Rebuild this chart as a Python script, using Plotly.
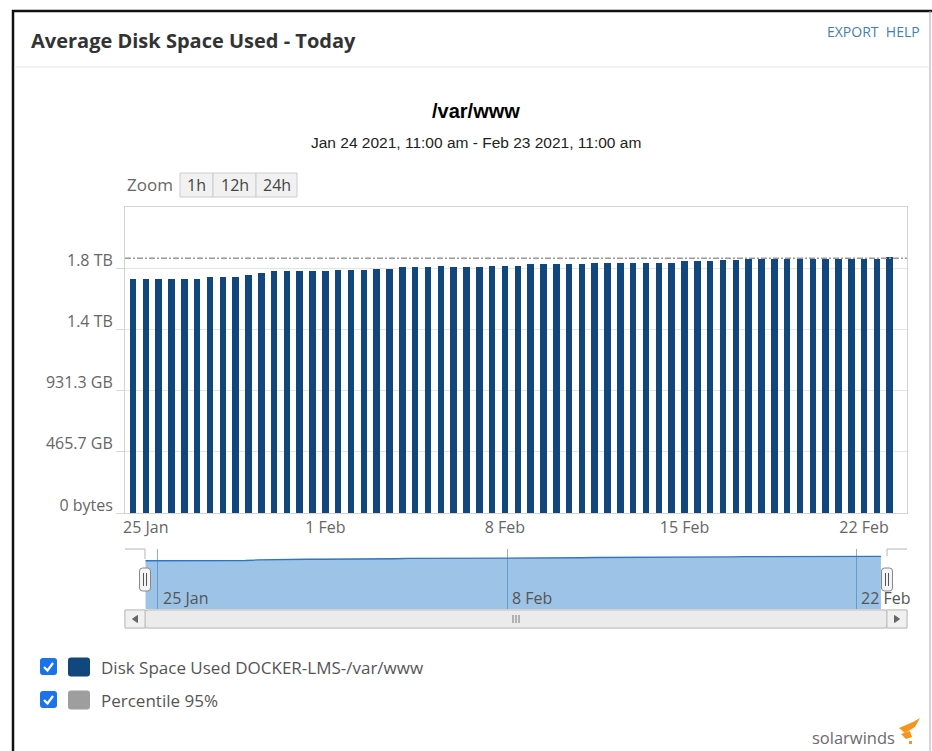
import pandas as pd
import plotly.graph_objects as go

# ---------------- data ----------------
timestamps = pd.date_range("2021-01-24 12:00", periods=60, freq="12h")
disk_used_tb = [
    1.913, 1.913, 1.913, 1.913, 1.913, 1.913, 1.924, 1.924, 1.924, 1.945,
    1.959, 1.973, 1.973, 1.973, 1.973, 1.973, 1.984, 1.984, 1.984, 1.994,
    1.994, 2.006, 2.006, 2.006, 2.019, 2.006, 2.006, 2.006, 2.019, 2.019,
    2.019, 2.033, 2.033, 2.033, 2.033, 2.033, 2.043, 2.043, 2.043, 2.043,
    2.043, 2.043, 2.043, 2.055, 2.055, 2.055, 2.065, 2.065, 2.076, 2.076,
    2.076, 2.076, 2.076, 2.076, 2.076, 2.076, 2.076, 2.076, 2.076, 2.087,
]
disk_used_bytes = [v * 1e12 for v in disk_used_tb]
percentile_95_bytes = 2.08e12
y_tick_vals = [0, 0.5e12, 1.0e12, 1.5e12, 2.0e12]
y_tick_text = ["0 bytes", "465.7 GB", "931.3 GB", "1.4 TB", "1.8 TB"]
x_tick_vals = ["2021-01-25", "2021-02-01", "2021-02-08", "2021-02-15", "2021-02-22"]
x_tick_text = ["25 Jan", "1 Feb", "8 Feb", "15 Feb", "22 Feb"]
nav_tick_vals = ["2021-01-25", "2021-02-08", "2021-02-22"]
nav_tick_text = ["25 Jan", "8 Feb", "22 Feb"]
series_name = "Disk Space Used DOCKER-LMS-/var/www"
percentile_name = "Percentile 95%"

W, H = 932, 751
def px(x):
    return x / W
def py(y):
    return 1 - y / H

BAR_COLOR = "#11477d"
GRAY_TXT = "#666666"

fig = go.Figure()

# main bars
fig.add_trace(go.Bar(
    x=timestamps, y=disk_used_bytes, name=series_name,
    marker=dict(color=BAR_COLOR, line=dict(width=0)),
    width=22.0e6, xaxis="x", yaxis="y", showlegend=False,
))
# percentile line
x_main_range = ["2021-01-24 04:30", "2021-02-23 16:10"]
fig.add_trace(go.Scatter(
    x=x_main_range, y=[percentile_95_bytes, percentile_95_bytes],
    mode="lines", name=percentile_name,
    line=dict(color="#9a9a9a", width=1.5, dash="6px,2px,2px,2px"),
    xaxis="x", yaxis="y", showlegend=False,
))
# navigator area
fig.add_trace(go.Scatter(
    x=timestamps, y=disk_used_bytes, mode="lines", fill="tozeroy",
    line=dict(color="#2f76be", width=1.3),
    fillcolor="rgba(60,135,205,0.5)",
    xaxis="x2", yaxis="y2", showlegend=False, hoverinfo="skip",
))

fig.update_layout(
    width=W, height=H, margin=dict(l=0, r=0, t=0, b=0, autoexpand=False),
    paper_bgcolor="white", plot_bgcolor="white",
    showlegend=False,
    bargap=0,
    xaxis=dict(
        domain=[px(125), px(907)], range=x_main_range, type="date",
        tickvals=x_tick_vals, ticktext=x_tick_text, automargin=False,
        showgrid=False, showline=True, linecolor="#d3d3d3", mirror=True,
        ticks="", tickfont=dict(family="Open Sans", size=16, color=GRAY_TXT),
        zeroline=False, anchor="y",
    ),
    yaxis=dict(
        domain=[py(513), py(207)], range=[0, 2.498e12],
        tickvals=y_tick_vals, ticktext=y_tick_text, automargin=False,
        showgrid=True, gridcolor="#e4e4e4", gridwidth=1,
        showline=True, linecolor="#d3d3d3", mirror=True,
        ticks="outside", ticklen=8, tickcolor="#d8d8d8",
        ticklabelshift=-8,
        tickfont=dict(family="Open Sans", size=16, color=GRAY_TXT),
        zeroline=False, anchor="x",
    ),
    xaxis2=dict(
        domain=[px(145), px(887)], range=["2021-01-24 11:30", "2021-02-23 05:50"],
        type="date", tickvals=nav_tick_vals, automargin=False,
        showgrid=True, gridcolor="#8fb0cf", gridwidth=1,
        showticklabels=False, ticks="",
        showline=False, zeroline=False, anchor="y2",
    ),
    yaxis2=dict(
        domain=[py(609), py(549)], range=[0, 2.38e12], automargin=False,
        showgrid=False, showticklabels=False, showline=False,
        zeroline=False, anchor="x2",
    ),
)

shapes = []
annotations = []

def line(x0, y0, x1, y1, color, width=1, dash=None):
    d = dict(type="line", xref="paper", yref="paper",
             x0=px(x0), y0=py(y0), x1=px(x1), y1=py(y1),
             line=dict(color=color, width=width))
    if dash:
        d["line"]["dash"] = dash
    shapes.append(d)

def rect(x0, y0, x1, y1, fill, border=None, bw=1):
    shapes.append(dict(type="rect", xref="paper", yref="paper",
                       x0=px(x0), y0=py(y1), x1=px(x1), y1=py(y0),
                       fillcolor=fill,
                       line=dict(color=border or fill, width=bw if border else 0)))

def rrect(x0, y0, x1, y1, r, fill, border=None, bw=1):
    pts = [
        f"M {px(x0 + r)},{py(y0)}",
        f"L {px(x1 - r)},{py(y0)}",
        f"Q {px(x1)},{py(y0)} {px(x1)},{py(y0 + r)}",
        f"L {px(x1)},{py(y1 - r)}",
        f"Q {px(x1)},{py(y1)} {px(x1 - r)},{py(y1)}",
        f"L {px(x0 + r)},{py(y1)}",
        f"Q {px(x0)},{py(y1)} {px(x0)},{py(y1 - r)}",
        f"L {px(x0)},{py(y0 + r)}",
        f"Q {px(x0)},{py(y0)} {px(x0 + r)},{py(y0)} Z",
    ]
    shapes.append(dict(type="path", xref="paper", yref="paper", path=" ".join(pts),
                       fillcolor=fill,
                       line=dict(color=border or fill, width=bw if border else 0)))

def path(points, color, width=1, fill=None, close=False):
    s = "M " + " L ".join(f"{px(x)},{py(y)}" for x, y in points)
    if close:
        s += " Z"
    d = dict(type="path", xref="paper", yref="paper", path=s,
             line=dict(color=color, width=width))
    if fill:
        d["fillcolor"] = fill
    shapes.append(d)

def text(x, y, t, size, color, family="Open Sans", xanchor="left", bold=False):
    if bold:
        t = f"<b>{t}</b>"
    annotations.append(dict(xref="paper", yref="paper", x=px(x), y=py(y),
                            text=t, showarrow=False, xanchor=xanchor, yanchor="middle",
                            font=dict(family=family, size=size, color=color)))

# navigator axis labels (placed at navigator x-axis tick dates)
for tv, tt in zip(nav_tick_vals, nav_tick_text):
    annotations.append(dict(xref="x2", yref="paper", x=tv, y=py(598), text=tt,
                            showarrow=False, xanchor="left", yanchor="middle", xshift=3,
                            font=dict(family="Open Sans", size=16, color="#555555")))

# card frame
line(12, 11, 932, 11, "#111111", 2.5)
line(13, 10, 13, 751, "#111111", 2.5)
line(930, 11, 930, 751, "#aaaaaa", 1)
line(14, 67, 930, 67, "#e3e3e3", 1)

# header
text(29, 40, "Average Disk Space Used - Today", 20, "#333333", bold=True)
text(922, 32, "EXPORT  HELP", 14, "#3f7fb3", xanchor="right")

# chart titles
text(476, 111, "/var/www", 20, "#000000", family="Liberation Sans, Arial", xanchor="center", bold=True)
text(476, 142, "Jan 24 2021, 11:00 am - Feb 23 2021, 11:00 am", 15.5, "#222222",
     family="Liberation Sans, Arial", xanchor="center")

# zoom buttons
text(125, 185, "Zoom", 17, GRAY_TXT)
for (x0, x1, lab) in [(180, 213, "1h"), (213, 256, "12h"), (256, 297, "24h")]:
    rect(x0, 173, x1, 197, "#f1f1f1", "#cccccc", 1)
    text((x0 + x1) / 2, 185, lab, 16, "#444444", xanchor="center")

# navigator outline
path([(125, 549), (145, 549), (145, 559)], "#b5b5b5", 1)
path([(887, 556), (887, 549), (907, 549)], "#b5b5b5", 1)

# navigator handles
for hx in (145, 887):
    rrect(hx - 5.5, 568, hx + 5.5, 591, 3, "#f4f4f4", "#888888", 1)
    line(hx - 1.5, 573, hx - 1.5, 586, "#555555", 1)
    line(hx + 1.5, 573, hx + 1.5, 586, "#555555", 1)

# scrollbar
rect(125, 610, 907, 628, "#f2f2f2", "#cfcfcf", 1)
rrect(145, 610, 887, 628, 3, "#ebebeb", "#bdbdbd", 1)
rect(125, 610, 145, 628, "#f0f0f0", "#bdbdbd", 1)
rect(887, 610, 907, 628, "#f0f0f0", "#bdbdbd", 1)
path([(137.5, 615.5), (132.5, 619), (137.5, 622.5)], "#666666", 1, fill="#666666", close=True)
path([(894.5, 615.5), (899.5, 619), (894.5, 622.5)], "#666666", 1, fill="#666666", close=True)
for gx in (513, 516, 519):
    line(gx, 615, gx, 623, "#777777", 1)

# legend (custom, with checkboxes)
for (cy, col, lab) in [(667, BAR_COLOR, series_name), (700, "#9e9e9e", percentile_name)]:
    rrect(40, cy - 9, 57, cy + 8, 3, "#1a73e8")
    path([(44, cy), (47.5, cy + 3.5), (53, cy - 4)], "#ffffff", 2.2)
    rrect(68, cy - 9.5, 90, cy + 9.5, 3, col)
    text(99, cy, lab, 17, "#555555")

# solarwinds logo
text(897, 737, "solarwinds", 16.5, "#6b6b6b", xanchor="right")
path([(899, 728), (913, 722), (920, 718), (915, 727), (905, 733)], "#f7941d", 0, fill="#f7941d", close=True)
path([(901, 734), (910, 731), (912, 737), (906, 739)], "#f7941d", 0, fill="#f7941d", close=True)
path([(909, 741), (912, 741), (912, 744), (909, 744)], "#f7941d", 0, fill="#f7941d", close=True)

fig.update_layout(shapes=shapes, annotations=annotations)
fig.write_html("out.html")
